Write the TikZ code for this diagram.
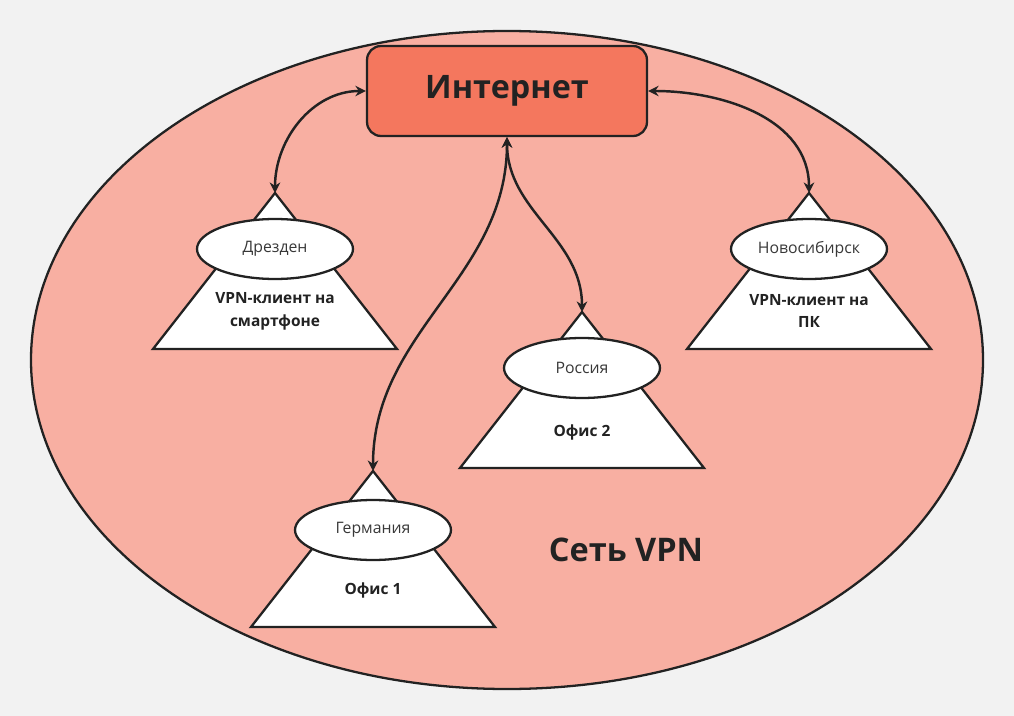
\documentclass[tikz,border=0pt]{standalone}
\usepackage{fontspec}
\setmainfont{Open Sans}
\usetikzlibrary{shapes.geometric,arrows.meta}

\definecolor{bgcol}{HTML}{F2F2F2}
\definecolor{vpncol}{HTML}{F8AFA2}
\definecolor{netcol}{HTML}{F4775E}
\definecolor{inkcol}{HTML}{222222}

\begin{document}
\begin{tikzpicture}[x=0.02cm,y=-0.02cm,
    line width=1.3pt,draw=inkcol,
    netbox/.style={draw=inkcol,fill=netcol,rounded corners=0.28cm,
      minimum width=5.6cm,minimum height=1.8cm,
      font=\fontsize{18.4}{22}\selectfont\bfseries,text=inkcol},
    site/.style={draw=inkcol,fill=white,line join=miter},
    city/.style={draw=inkcol,fill=white,ellipse,inner sep=0pt,
      minimum width=3.12cm,minimum height=1.2cm,
      font=\fontsize{9}{11}\selectfont,text=inkcol!90},
    office/.style={align=center,text=inkcol,
      font=\fontsize{8.8}{13}\selectfont\bfseries},
    link/.style={{Stealth[length=6pt,width=6pt]}-{Stealth[length=6pt,width=6pt]},
      draw=inkcol,line width=1.4pt}]
  % --- Background and VPN area ---
  \fill[bgcol] (0,0) rectangle (1014,716);
  \useasboundingbox (0,0) rectangle (1014,716);
  \draw[fill=vpncol] (507,360) ellipse [x radius=476,y radius=329];
  \node[text=inkcol,font=\fontsize{18.5}{22}\selectfont\bfseries] (vpn) at (626,550) {Сеть VPN};

  % --- Internet box ---
  \node[netbox] (net) at (507,91) {Интернет};

  % --- Apexes of the sites ---
  \coordinate (dresden) at (275,193);
  \coordinate (novosib) at (809,193);
  \coordinate (russia) at (582,312);
  \coordinate (germany) at (373,471);

  % --- Sites ---
  \draw[site] (dresden) -- ++(-122,156) -- ++(244,0) -- cycle;
  \draw[site] (novosib) -- ++(-122,156) -- ++(244,0) -- cycle;
  \draw[site] (russia) -- ++(-122,156) -- ++(244,0) -- cycle;
  \draw[site] (germany) -- ++(-122,156) -- ++(244,0) -- cycle;

  \node[city] (dresden-city) at (275,249) {Дрезден};
  \node[city] (novosib-city) at (809,249) {Новосибирск};
  \node[city] (russia-city) at (582,368) {Россия};
  \node[city] (germany-city) at (373,530) {Германия};

  \node[office] (dresden-text) at (275,311) {VPN-клиент на\\смартфоне};
  \node[office] (novosib-text) at (809,311) {VPN-клиент на\\ПК};
  \node[office] (russia-text) at (582,432) {Офис 2};
  \node[office] (germany-text) at (373,590) {Офис 1};

  % --- Links to the Internet ---
  \draw[link] (net.west) to[out=180,in=90] (dresden);
  \draw[link] (net.east) to[out=0,in=90] (novosib);
  \draw[link] (net.south) to[out=-90,in=90] (germany);
  \draw[link] (net.south) to[out=-90,in=90] (russia);
\end{tikzpicture}
\end{document}
